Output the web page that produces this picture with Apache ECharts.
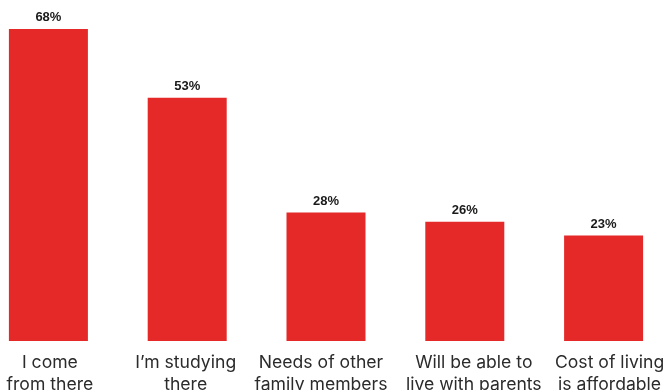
<!DOCTYPE html>
<html>
<head>
<meta charset="utf-8">
<script src="https://cdn.jsdelivr.net/npm/echarts@6/dist/echarts.min.js"></script>
<style>
  html, body { margin: 0; padding: 0; background: #fff; }
  #chart { width: 664px; height: 390px; }
</style>
</head>
<body>
<div id="chart"></div>
<script>
var categories = ['I come\nfrom there', 'I\u2019m studying\nthere', 'Needs of other\nfamily members', 'Will be able to\nlive with parents', 'Cost of living\nis affordable'];
var values = [68, 53, 28, 26, 23];

// labels in the original are not exactly centred under the bars (px, + = right)
var labelShift = [1.5, -1.5, -5, 9, 6];

var myChart = echarts.init(document.getElementById('chart'));

var xData = categories.map(function (c, i) {
    var s = labelShift[i];
    return {
        value: c,
        textStyle: { padding: s > 0 ? [0, 0, 0, 2 * s] : [0, -2 * s, 0, 0] }
    };
});

var option = {
    animation: false,
    grid: { left: -21, right: -9, top: 29, bottom: 49, containLabel: false, outerBoundsMode: 'none' },
    xAxis: {
        type: 'category',
        data: xData,
        axisLine: { show: false },
        axisTick: { show: false },
        axisLabel: {
            interval: 0,
            margin: 11,
            fontFamily: 'Inter',
            fontSize: 17.6,
            lineHeight: 22,
            color: '#2b2b2b',
            verticalAlign: 'top'
        }
    },
    yAxis: {
        type: 'value',
        min: 0,
        max: 68,
        show: false
    },
    series: [{
        type: 'bar',
        data: values,
        barWidth: 79,
        itemStyle: { color: '#e52828' },
        label: {
            show: true,
            position: 'top',
            distance: 5,
            formatter: '{c}%',
            fontFamily: 'Liberation Sans',
            fontWeight: 'bold',
            fontSize: 13,
            color: '#1a1a1a'
        }
    }]
};

myChart.setOption(option);
</script>
</body>
</html>
